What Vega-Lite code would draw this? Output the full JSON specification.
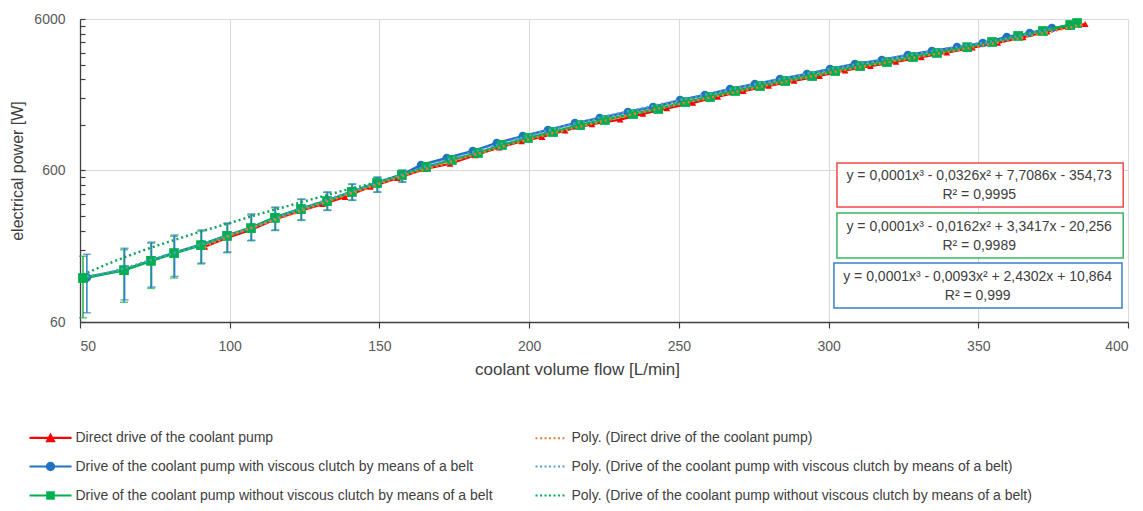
{
  "$schema": "https://vega.github.io/schema/vega-lite/v6.json",
  "width": 1048,
  "height": 303,
  "autosize": {"type": "none"},
  "padding": {"left": 80, "top": 19, "right": 15, "bottom": 189},
  "config": {
    "font": "Liberation Sans",
    "view": {"stroke": null},
    "axis": {"labelFont": "Liberation Sans", "titleFont": "Liberation Sans"}
  },
  "datasets": {
    "pts": [
      {"s": "G", "x": 51.0, "y": 117, "lo": 64, "hi": 163},
      {"s": "G", "x": 64.7, "y": 132, "lo": 81, "hi": 180},
      {"s": "G", "x": 73.7, "y": 152, "lo": 100, "hi": 199},
      {"s": "G", "x": 81.4, "y": 171, "lo": 117, "hi": 221},
      {"s": "G", "x": 90.4, "y": 193, "lo": 145, "hi": 239},
      {"s": "G", "x": 99.1, "y": 222, "lo": 172, "hi": 267},
      {"s": "G", "x": 107.1, "y": 250, "lo": 206, "hi": 305},
      {"s": "G", "x": 115.1, "y": 292, "lo": 241, "hi": 340},
      {"s": "G", "x": 123.8, "y": 334, "lo": 281, "hi": 386},
      {"s": "G", "x": 132.5, "y": 377, "lo": 327, "hi": 430},
      {"s": "G", "x": 140.8, "y": 433, "lo": 381, "hi": 486},
      {"s": "G", "x": 149.2, "y": 496, "lo": 431, "hi": 540},
      {"s": "G", "x": 157.5, "y": 560, "lo": 502, "hi": 601},
      {"s": "G", "x": 165.6, "y": 633},
      {"s": "G", "x": 174.2, "y": 704},
      {"s": "G", "x": 182.9, "y": 783},
      {"s": "G", "x": 190.9, "y": 884},
      {"s": "G", "x": 199.6, "y": 983},
      {"s": "G", "x": 208.0, "y": 1077},
      {"s": "G", "x": 217.0, "y": 1197},
      {"s": "G", "x": 225.3, "y": 1293},
      {"s": "G", "x": 234.7, "y": 1416},
      {"s": "G", "x": 243.1, "y": 1528},
      {"s": "G", "x": 252.1, "y": 1698},
      {"s": "G", "x": 260.4, "y": 1833},
      {"s": "G", "x": 268.8, "y": 2009},
      {"s": "G", "x": 277.1, "y": 2166},
      {"s": "G", "x": 285.5, "y": 2339},
      {"s": "G", "x": 294.5, "y": 2522},
      {"s": "G", "x": 302.2, "y": 2722},
      {"s": "G", "x": 310.5, "y": 2935},
      {"s": "G", "x": 319.5, "y": 3120},
      {"s": "G", "x": 328.2, "y": 3366},
      {"s": "G", "x": 336.2, "y": 3580},
      {"s": "G", "x": 346.3, "y": 3911},
      {"s": "G", "x": 354.6, "y": 4230},
      {"s": "G", "x": 363.3, "y": 4636},
      {"s": "G", "x": 371.6, "y": 5000},
      {"s": "G", "x": 380.7, "y": 5478},
      {"s": "G", "x": 383.0, "y": 5646},

      {"s": "B", "x": 52.3, "y": 118, "lo": 69, "hi": 168},
      {"s": "B", "x": 64.9, "y": 133, "lo": 84, "hi": 184},
      {"s": "B", "x": 73.9, "y": 153, "lo": 102, "hi": 202},
      {"s": "B", "x": 81.6, "y": 172, "lo": 120, "hi": 225},
      {"s": "B", "x": 90.6, "y": 195, "lo": 147, "hi": 243},
      {"s": "B", "x": 99.3, "y": 224, "lo": 174, "hi": 270},
      {"s": "B", "x": 107.3, "y": 253, "lo": 208, "hi": 310},
      {"s": "B", "x": 115.3, "y": 295, "lo": 243, "hi": 344},
      {"s": "B", "x": 124.0, "y": 337, "lo": 283, "hi": 389},
      {"s": "B", "x": 132.7, "y": 381, "lo": 329, "hi": 433},
      {"s": "B", "x": 141.0, "y": 437, "lo": 383, "hi": 489},
      {"s": "B", "x": 149.4, "y": 501, "lo": 433, "hi": 543},
      {"s": "B", "x": 157.7, "y": 566, "lo": 504, "hi": 604},
      {"s": "B", "x": 163.9, "y": 652},
      {"s": "B", "x": 172.5, "y": 725},
      {"s": "B", "x": 181.2, "y": 806},
      {"s": "B", "x": 189.2, "y": 911},
      {"s": "B", "x": 197.9, "y": 1012},
      {"s": "B", "x": 206.3, "y": 1109},
      {"s": "B", "x": 215.3, "y": 1233},
      {"s": "B", "x": 223.6, "y": 1332},
      {"s": "B", "x": 233.0, "y": 1458},
      {"s": "B", "x": 241.4, "y": 1574},
      {"s": "B", "x": 250.4, "y": 1749},
      {"s": "B", "x": 258.7, "y": 1888},
      {"s": "B", "x": 267.1, "y": 2069},
      {"s": "B", "x": 275.4, "y": 2231},
      {"s": "B", "x": 283.8, "y": 2409},
      {"s": "B", "x": 292.8, "y": 2598},
      {"s": "B", "x": 300.5, "y": 2804},
      {"s": "B", "x": 308.8, "y": 3023},
      {"s": "B", "x": 317.8, "y": 3214},
      {"s": "B", "x": 326.5, "y": 3467},
      {"s": "B", "x": 334.5, "y": 3687},
      {"s": "B", "x": 342.9, "y": 3911},
      {"s": "B", "x": 351.5, "y": 4165},
      {"s": "B", "x": 359.5, "y": 4563},
      {"s": "B", "x": 367.2, "y": 4847},
      {"s": "B", "x": 374.6, "y": 5233},

      {"s": "R", "x": 91.7, "y": 188},
      {"s": "R", "x": 99.5, "y": 217},
      {"s": "R", "x": 107.5, "y": 245},
      {"s": "R", "x": 115.5, "y": 287},
      {"s": "R", "x": 123.5, "y": 324},
      {"s": "R", "x": 131.0, "y": 360},
      {"s": "R", "x": 138.5, "y": 401},
      {"s": "R", "x": 147.0, "y": 468},
      {"s": "R", "x": 156.0, "y": 534},
      {"s": "R", "x": 165.0, "y": 612},
      {"s": "R", "x": 173.6, "y": 665},
      {"s": "R", "x": 182.0, "y": 756},
      {"s": "R", "x": 190.0, "y": 851},
      {"s": "R", "x": 197.5, "y": 935},
      {"s": "R", "x": 204.3, "y": 998},
      {"s": "R", "x": 212.0, "y": 1102},
      {"s": "R", "x": 221.0, "y": 1212},
      {"s": "R", "x": 230.4, "y": 1300},
      {"s": "R", "x": 238.0, "y": 1420},
      {"s": "R", "x": 246.0, "y": 1543},
      {"s": "R", "x": 254.7, "y": 1678},
      {"s": "R", "x": 263.0, "y": 1840},
      {"s": "R", "x": 271.5, "y": 2007},
      {"s": "R", "x": 280.0, "y": 2169},
      {"s": "R", "x": 288.5, "y": 2340},
      {"s": "R", "x": 297.0, "y": 2522},
      {"s": "R", "x": 305.5, "y": 2742},
      {"s": "R", "x": 314.0, "y": 2932},
      {"s": "R", "x": 322.5, "y": 3125},
      {"s": "R", "x": 331.0, "y": 3355},
      {"s": "R", "x": 339.5, "y": 3598},
      {"s": "R", "x": 348.0, "y": 3885},
      {"s": "R", "x": 356.5, "y": 4173},
      {"s": "R", "x": 365.0, "y": 4544},
      {"s": "R", "x": 373.0, "y": 4948},
      {"s": "R", "x": 380.0, "y": 5304},
      {"s": "R", "x": 385.7, "y": 5562},

      {"s": "TB", "x": 52.3, "y": 120},
      {"s": "TB", "x": 60, "y": 128},
      {"s": "TB", "x": 70, "y": 146},
      {"s": "TB", "x": 80, "y": 168},
      {"s": "TB", "x": 90, "y": 194},
      {"s": "TB", "x": 100, "y": 225},
      {"s": "TB", "x": 110, "y": 262},
      {"s": "TB", "x": 120, "y": 315},
      {"s": "TB", "x": 130, "y": 370},
      {"s": "TB", "x": 140, "y": 430},
      {"s": "TB", "x": 150, "y": 500},
      {"s": "TB", "x": 160, "y": 585},
      {"s": "TB", "x": 170, "y": 680},
      {"s": "TB", "x": 180, "y": 780},
      {"s": "TB", "x": 190, "y": 895},
      {"s": "TB", "x": 200, "y": 1020},
      {"s": "TB", "x": 220, "y": 1290},
      {"s": "TB", "x": 240, "y": 1580},
      {"s": "TB", "x": 260, "y": 1920},
      {"s": "TB", "x": 280, "y": 2320},
      {"s": "TB", "x": 300, "y": 2790},
      {"s": "TB", "x": 320, "y": 3290},
      {"s": "TB", "x": 340, "y": 3840},
      {"s": "TB", "x": 360, "y": 4480},
      {"s": "TB", "x": 374.6, "y": 5200},

      {"s": "TG", "x": 51, "y": 123},
      {"s": "TG", "x": 60, "y": 147},
      {"s": "TG", "x": 70, "y": 175},
      {"s": "TG", "x": 80, "y": 204},
      {"s": "TG", "x": 90, "y": 236},
      {"s": "TG", "x": 100, "y": 270},
      {"s": "TG", "x": 110, "y": 310},
      {"s": "TG", "x": 120, "y": 352},
      {"s": "TG", "x": 130, "y": 400},
      {"s": "TG", "x": 140, "y": 453},
      {"s": "TG", "x": 150, "y": 508},
      {"s": "TG", "x": 160, "y": 585},
      {"s": "TG", "x": 180, "y": 752},
      {"s": "TG", "x": 200, "y": 965},
      {"s": "TG", "x": 220, "y": 1205},
      {"s": "TG", "x": 240, "y": 1500},
      {"s": "TG", "x": 260, "y": 1850},
      {"s": "TG", "x": 280, "y": 2250},
      {"s": "TG", "x": 300, "y": 2720},
      {"s": "TG", "x": 320, "y": 3200},
      {"s": "TG", "x": 340, "y": 3720},
      {"s": "TG", "x": 360, "y": 4480},
      {"s": "TG", "x": 383, "y": 5640},

      {"s": "TR", "x": 91.7, "y": 186},
      {"s": "TR", "x": 100, "y": 222},
      {"s": "TR", "x": 110, "y": 262},
      {"s": "TR", "x": 120, "y": 305},
      {"s": "TR", "x": 130, "y": 360},
      {"s": "TR", "x": 140, "y": 420},
      {"s": "TR", "x": 150, "y": 490},
      {"s": "TR", "x": 160, "y": 570},
      {"s": "TR", "x": 170, "y": 650},
      {"s": "TR", "x": 180, "y": 745},
      {"s": "TR", "x": 190, "y": 850},
      {"s": "TR", "x": 200, "y": 965},
      {"s": "TR", "x": 220, "y": 1210},
      {"s": "TR", "x": 240, "y": 1490},
      {"s": "TR", "x": 260, "y": 1810},
      {"s": "TR", "x": 280, "y": 2200},
      {"s": "TR", "x": 300, "y": 2640},
      {"s": "TR", "x": 320, "y": 3120},
      {"s": "TR", "x": 340, "y": 3650},
      {"s": "TR", "x": 360, "y": 4320},
      {"s": "TR", "x": 385.7, "y": 5562}
    ],
    "leg": [
      {"series": "Direct drive of the coolant pump"},
      {"series": "Drive of the coolant pump with viscous clutch by means of a belt"},
      {"series": "Drive of the coolant pump without viscous clutch by means of a belt"},
      {"series": "Poly. (Direct drive of the coolant pump)"},
      {"series": "Poly. (Drive of the coolant pump with viscous clutch by means of a belt)"},
      {"series": "Poly. (Drive of the coolant pump without viscous clutch by means of a belt)"}
    ]
  },
  "data": {"name": "pts"},
  "layer": [
    {
      "transform": [{"filter": "datum.s=='R'"}],
      "mark": {"type": "line", "color": "#FF0000", "strokeWidth": 2.2},
      "encoding": {
        "x": {"field": "x", "type": "quantitative", "scale": {"domain": [50, 400], "nice": false, "zero": false},
          "axis": {"values": [50, 100, 150, 200, 250, 300, 350, 400], "title": "coolant volume flow [L/min]",
            "grid": true, "gridColor": "#D9D9D9", "gridWidth": 1, "domainColor": "#404040", "domainWidth": 1.3,
            "ticks": true, "tickColor": "#404040", "tickWidth": 1.2, "tickSize": 6, "labelPadding": 11, "labelFontSize": 14, "labelColor": "#595959",
            "titleFontSize": 17, "titleFontWeight": "normal", "titleColor": "#404040", "titlePadding": 8, "titleX": 497}},
        "y": {"field": "y", "type": "quantitative", "scale": {"type": "log", "domain": [60, 6000], "nice": false},
          "axis": {"values": [60, 120, 180, 240, 300, 360, 420, 480, 540, 600, 1200, 1800, 2400, 3000, 3600, 4200, 4800, 5400, 6000],
            "labelExpr": "(datum.value==60||datum.value==600||datum.value==6000) ? ''+datum.value : ''",
            "title": "electrical power [W]", "grid": true, "gridColor": "#D9D9D9",
            "gridOpacity": {"condition": {"test": "datum.value==600||datum.value==6000", "value": 1}, "value": 0},
            "ticks": true, "tickSize": -5,
            "domainColor": "#404040", "domainWidth": 1.3, "tickColor": "#404040", "tickWidth": 1.2, "labelPadding": 20,
            "labelFontSize": 14, "labelColor": "#595959", "titleFontSize": 16, "titleFontWeight": "normal",
            "titleColor": "#404040", "titlePadding": 8}}
      }
    },
    {
      "transform": [{"filter": "datum.s=='R'"}],
      "mark": {"type": "point", "shape": "triangle-up", "filled": true, "opacity": 1, "color": "#FF0000", "size": 45},
      "encoding": {
        "x": {"field": "x", "type": "quantitative", "scale": {"domain": [50, 400], "nice": false, "zero": false}},
        "y": {"field": "y", "type": "quantitative", "scale": {"type": "log", "domain": [60, 6000], "nice": false}}
      }
    },
    {
      "transform": [{"filter": "datum.s=='G' && isValid(datum.lo)"}],
      "mark": {"type": "errorbar", "color": "#22B050", "thickness": 1.5, "ticks": {"size": 8, "thickness": 1.5}},
      "encoding": {
        "x": {"field": "x", "type": "quantitative", "scale": {"domain": [50, 400], "nice": false, "zero": false}},
        "y": {"field": "lo", "type": "quantitative", "title": "electrical power [W]", "scale": {"type": "log", "domain": [60, 6000], "nice": false}},
        "y2": {"field": "hi"}
      }
    },
    {
      "transform": [{"filter": "datum.s=='B' && isValid(datum.lo)"}],
      "mark": {"type": "errorbar", "color": "#2E7DC8", "thickness": 1.5, "ticks": {"size": 8, "thickness": 1.5}},
      "encoding": {
        "x": {"field": "x", "type": "quantitative", "scale": {"domain": [50, 400], "nice": false, "zero": false}},
        "y": {"field": "lo", "type": "quantitative", "title": "electrical power [W]", "scale": {"type": "log", "domain": [60, 6000], "nice": false}},
        "y2": {"field": "hi"}
      }
    },
    {
      "transform": [{"filter": "datum.s=='B'"}],
      "mark": {"type": "line", "color": "#2272C3", "strokeWidth": 2.5},
      "encoding": {
        "x": {"field": "x", "type": "quantitative", "scale": {"domain": [50, 400], "nice": false, "zero": false}},
        "y": {"field": "y", "type": "quantitative", "scale": {"type": "log", "domain": [60, 6000], "nice": false}}
      }
    },
    {
      "transform": [{"filter": "datum.s=='B'"}],
      "mark": {"type": "point", "shape": "circle", "filled": true, "opacity": 1, "color": "#2272C3", "size": 75},
      "encoding": {
        "x": {"field": "x", "type": "quantitative", "scale": {"domain": [50, 400], "nice": false, "zero": false}},
        "y": {"field": "y", "type": "quantitative", "scale": {"type": "log", "domain": [60, 6000], "nice": false}}
      }
    },
    {
      "transform": [{"filter": "datum.s=='G'"}],
      "mark": {"type": "line", "color": "#00B050", "strokeWidth": 2.8},
      "encoding": {
        "x": {"field": "x", "type": "quantitative", "scale": {"domain": [50, 400], "nice": false, "zero": false}},
        "y": {"field": "y", "type": "quantitative", "scale": {"type": "log", "domain": [60, 6000], "nice": false}}
      }
    },
    {
      "transform": [{"filter": "datum.s=='G'"}],
      "mark": {"type": "point", "shape": "square", "filled": true, "opacity": 1, "color": "#00B050", "size": 95},
      "encoding": {
        "x": {"field": "x", "type": "quantitative", "scale": {"domain": [50, 400], "nice": false, "zero": false}},
        "y": {"field": "y", "type": "quantitative", "scale": {"type": "log", "domain": [60, 6000], "nice": false}}
      }
    },
    {
      "transform": [{"filter": "datum.s=='TB'"}],
      "mark": {"type": "line", "color": "#5B9BD5", "strokeWidth": 2.5, "strokeDash": [2, 3], "interpolate": "monotone"},
      "encoding": {
        "x": {"field": "x", "type": "quantitative", "scale": {"domain": [50, 400], "nice": false, "zero": false}},
        "y": {"field": "y", "type": "quantitative", "scale": {"type": "log", "domain": [60, 6000], "nice": false}}
      }
    },
    {
      "transform": [{"filter": "datum.s=='TG'"}],
      "mark": {"type": "line", "color": "#13A05A", "strokeWidth": 2.5, "strokeDash": [2, 3], "interpolate": "monotone"},
      "encoding": {
        "x": {"field": "x", "type": "quantitative", "scale": {"domain": [50, 400], "nice": false, "zero": false}},
        "y": {"field": "y", "type": "quantitative", "scale": {"type": "log", "domain": [60, 6000], "nice": false}}
      }
    },
    {
      "transform": [{"filter": "datum.s=='TR'"}],
      "mark": {"type": "line", "color": "#ED7D31", "strokeWidth": 2.5, "strokeDash": [2, 3], "interpolate": "monotone"},
      "encoding": {
        "x": {"field": "x", "type": "quantitative", "scale": {"domain": [50, 400], "nice": false, "zero": false}},
        "y": {"field": "y", "type": "quantitative", "scale": {"type": "log", "domain": [60, 6000], "nice": false}}
      }
    },
    {
      "data": {"values": [{}]},
      "mark": {"type": "rect", "fill": "white", "stroke": "#F04848", "strokeWidth": 1.5},
      "encoding": {
        "x": {"datum": 302.8, "type": "quantitative", "scale": {"domain": [50, 400], "nice": false, "zero": false}},
        "x2": {"datum": 398.4},
        "y": {"datum": 672.6, "type": "quantitative", "scale": {"type": "log", "domain": [60, 6000], "nice": false}},
        "y2": {"datum": 344.5}
      }
    },
    {
      "data": {"values": [{}]},
      "mark": {"type": "rect", "fill": "white", "stroke": "#3CB463", "strokeWidth": 1.5},
      "encoding": {
        "x": {"datum": 302.8, "type": "quantitative", "scale": {"domain": [50, 400], "nice": false, "zero": false}},
        "x2": {"datum": 398.4},
        "y": {"datum": 314.6, "type": "quantitative", "scale": {"type": "log", "domain": [60, 6000], "nice": false}},
        "y2": {"datum": 158.7}
      }
    },
    {
      "data": {"values": [{}]},
      "mark": {"type": "rect", "fill": "white", "stroke": "#3A80C8", "strokeWidth": 1.5},
      "encoding": {
        "x": {"datum": 301.8, "type": "quantitative", "scale": {"domain": [50, 400], "nice": false, "zero": false}},
        "x2": {"datum": 398.0},
        "y": {"datum": 147.1, "type": "quantitative", "scale": {"type": "log", "domain": [60, 6000], "nice": false}},
        "y2": {"datum": 74.2}
      }
    },
    {
      "data": {"values": [{}]},
      "mark": {"type": "text", "font": "Liberation Sans", "fontSize": 14, "color": "#404040", "align": "center", "baseline": "middle"},
      "encoding": {
        "x": {"datum": 350.3, "type": "quantitative", "scale": {"domain": [50, 400], "nice": false, "zero": false}},
        "y": {"datum": 552, "type": "quantitative", "scale": {"type": "log", "domain": [60, 6000], "nice": false}},
        "text": {"value": "y = 0,0001x³ - 0,0326x² + 7,7086x - 354,73"}
      }
    },
    {
      "data": {"values": [{}]},
      "mark": {"type": "text", "font": "Liberation Sans", "fontSize": 14, "color": "#404040", "align": "center", "baseline": "middle"},
      "encoding": {
        "x": {"datum": 350.3, "type": "quantitative", "scale": {"domain": [50, 400], "nice": false, "zero": false}},
        "y": {"datum": 413.5, "type": "quantitative", "scale": {"type": "log", "domain": [60, 6000], "nice": false}},
        "text": {"value": "R² = 0,9995"}
      }
    },
    {
      "data": {"values": [{}]},
      "mark": {"type": "text", "font": "Liberation Sans", "fontSize": 14, "color": "#404040", "align": "center", "baseline": "middle"},
      "encoding": {
        "x": {"datum": 350.3, "type": "quantitative", "scale": {"domain": [50, 400], "nice": false, "zero": false}},
        "y": {"datum": 254, "type": "quantitative", "scale": {"type": "log", "domain": [60, 6000], "nice": false}},
        "text": {"value": "y = 0,0001x³ - 0,0162x² + 3,3417x - 20,256"}
      }
    },
    {
      "data": {"values": [{}]},
      "mark": {"type": "text", "font": "Liberation Sans", "fontSize": 14, "color": "#404040", "align": "center", "baseline": "middle"},
      "encoding": {
        "x": {"datum": 350.3, "type": "quantitative", "scale": {"domain": [50, 400], "nice": false, "zero": false}},
        "y": {"datum": 190.5, "type": "quantitative", "scale": {"type": "log", "domain": [60, 6000], "nice": false}},
        "text": {"value": "R² = 0,9989"}
      }
    },
    {
      "data": {"values": [{}]},
      "mark": {"type": "text", "font": "Liberation Sans", "fontSize": 14, "color": "#404040", "align": "center", "baseline": "middle"},
      "encoding": {
        "x": {"datum": 349.8, "type": "quantitative", "scale": {"domain": [50, 400], "nice": false, "zero": false}},
        "y": {"datum": 118.9, "type": "quantitative", "scale": {"type": "log", "domain": [60, 6000], "nice": false}},
        "text": {"value": "y = 0,0001x³ - 0,0093x² + 2,4302x + 10,864"}
      }
    },
    {
      "data": {"values": [{}]},
      "mark": {"type": "text", "font": "Liberation Sans", "fontSize": 14, "color": "#404040", "align": "center", "baseline": "middle"},
      "encoding": {
        "x": {"datum": 349.8, "type": "quantitative", "scale": {"domain": [50, 400], "nice": false, "zero": false}},
        "y": {"datum": 89, "type": "quantitative", "scale": {"type": "log", "domain": [60, 6000], "nice": false}},
        "text": {"value": "R² = 0,999"}
      }
    },
    {
      "data": {"name": "leg"},
      "mark": {"type": "point", "filled": true, "opacity": 0},
      "encoding": {
        "color": {"field": "series", "type": "nominal",
          "scale": {"domain": [
            "Direct drive of the coolant pump",
            "Drive of the coolant pump with viscous clutch by means of a belt",
            "Drive of the coolant pump without viscous clutch by means of a belt",
            "Poly. (Direct drive of the coolant pump)",
            "Poly. (Drive of the coolant pump with viscous clutch by means of a belt)",
            "Poly. (Drive of the coolant pump without viscous clutch by means of a belt)"],
            "range": ["#FF0000", "#2272C3", "#00B050", "#ED7D31", "#5B9BD5", "#00B050"]},
          "legend": {"orient": "none", "legendX": -52, "legendY": 409, "columns": 2, "columnPadding": 31, "rowPadding": 11,
            "title": null, "padding": 0, "symbolSize": 256, "symbolStrokeWidth": 2.2, "symbolOpacity": 1, "labelOffset": 28.5,
            "labelFont": "Liberation Sans", "labelFontSize": 14, "labelColor": "#404040", "labelLimit": 0,
            "encode": {"symbols": {"update": {"stroke": {"scale": "color", "field": "value"}, "fill": {"scale": "color", "field": "value"}, "opacity": {"value": 1}}}}}},
        "shape": {"field": "series", "type": "nominal",
          "scale": {"domain": [
            "Direct drive of the coolant pump",
            "Drive of the coolant pump with viscous clutch by means of a belt",
            "Drive of the coolant pump without viscous clutch by means of a belt",
            "Poly. (Direct drive of the coolant pump)",
            "Poly. (Drive of the coolant pump with viscous clutch by means of a belt)",
            "Poly. (Drive of the coolant pump without viscous clutch by means of a belt)"],
            "range": [
              "M-1,0H4.25M1.2,0.4L1.625,-0.4L2.05,0.4Z",
              "M-1,0H4.25M2.075,0A0.45,0.45 0 1,1 1.175,0A0.45,0.45 0 1,1 2.075,0Z",
              "M-1,0H4.25M1.225,-0.4H2.025V0.4H1.225Z",
              "M0.25,0h0.25M0.8125,0h0.25M1.375,0h0.25M1.9375,0h0.25M2.5,0h0.25M3.0625,0h0.25M3.625,0h0.25",
              "M0.25,0h0.25M0.8125,0h0.25M1.375,0h0.25M1.9375,0h0.25M2.5,0h0.25M3.0625,0h0.25M3.625,0h0.25",
              "M0.25,0h0.25M0.8125,0h0.25M1.375,0h0.25M1.9375,0h0.25M2.5,0h0.25M3.0625,0h0.25M3.625,0h0.25"]},
          "legend": {"orient": "none", "legendX": -52, "legendY": 409, "columns": 2, "columnPadding": 31, "rowPadding": 11,
            "title": null, "padding": 0, "symbolSize": 256, "symbolStrokeWidth": 2.2, "symbolOpacity": 1, "labelOffset": 28.5,
            "labelFont": "Liberation Sans", "labelFontSize": 14, "labelColor": "#404040", "labelLimit": 0,
            "encode": {"symbols": {"update": {"stroke": {"scale": "color", "field": "value"}, "fill": {"scale": "color", "field": "value"}, "opacity": {"value": 1}}}}}}
      }
    }
  ]
}
